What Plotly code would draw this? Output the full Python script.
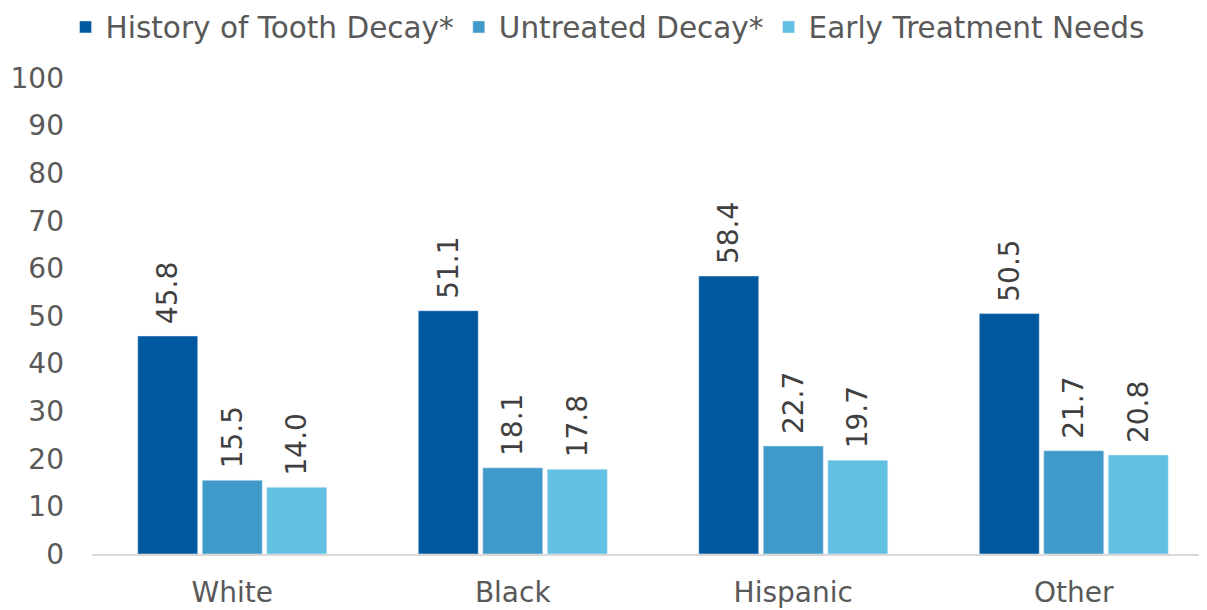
import plotly.graph_objects as go

categories = ["White", "Black", "Hispanic", "Other"]
series_names = ["History of Tooth Decay*", "Untreated Decay*", "Early Treatment Needs"]
history = [45.8, 51.1, 58.4, 50.5]
untreated = [15.5, 18.1, 22.7, 21.7]
early = [14.0, 17.8, 19.7, 20.8]
colors = ["#00599F", "#3F9AC9", "#62C0E2"]

fig = go.Figure()
for name, vals, col in zip(series_names, [history, untreated, early], colors):
    fig.add_trace(go.Bar(
        x=categories, y=vals, name=name, marker_color=col,
        text=["\u00a0" + f"{v:.1f}" for v in vals], textposition="outside",
        textangle=-90, cliponaxis=False, constraintext="none",
        textfont=dict(size=28, color="#404040", family="DejaVu Sans"),
    ))

fig.update_layout(
    width=1199, height=602,
    margin=dict(l=84, r=0, t=70, b=56, autoexpand=False),
    plot_bgcolor="white", paper_bgcolor="white",
    barmode="group", bargap=0.31, bargroupgap=0.07,
    font=dict(family="DejaVu Sans", size=28, color="#595959"),
    legend=dict(orientation="h", x=0.048, xref="container", y=0.968, yref="container",
                yanchor="middle", xanchor="left", font=dict(size=29.5, color="#595959"),
                itemwidth=30),
    showlegend=True,
)
fig.update_xaxes(range=[-0.5, 3.475], showline=True, linecolor="#D9D9D9", linewidth=1.5,
                 ticks="", tickfont=dict(size=28, color="#595959"), automargin=False,
                 ticklabelstandoff=13)
fig.update_yaxes(range=[0, 100], dtick=10, showgrid=False, zeroline=False,
                 showline=False, tickfont=dict(size=28, color="#595959"),
                 ticks="", automargin=False, ticklabelstandoff=27)
fig.write_html("out.html")
